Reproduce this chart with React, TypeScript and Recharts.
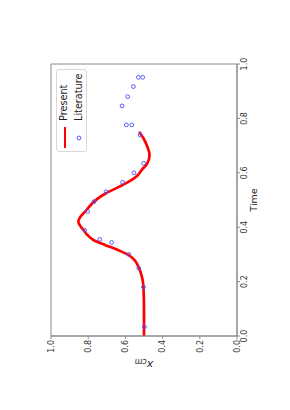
import { ComposedChart, Line, Scatter, XAxis, YAxis, ReferenceArea } from 'recharts'

const presentTime = [0, 0.1, 0.18, 0.22, 0.255, 0.28, 0.298, 0.316, 0.335, 0.353, 0.372, 0.39, 0.405, 0.42, 0.44, 0.457, 0.475, 0.494, 0.51, 0.525, 0.55, 0.574, 0.59, 0.61, 0.635, 0.665, 0.696, 0.727, 0.751]
const presentXcm = [0.5, 0.5, 0.503, 0.512, 0.53, 0.552, 0.584, 0.64, 0.71, 0.772, 0.805, 0.826, 0.843, 0.853, 0.84, 0.817, 0.795, 0.769, 0.74, 0.704, 0.63, 0.566, 0.535, 0.513, 0.482, 0.47, 0.482, 0.503, 0.526]

const literatureTime = [0.034, 0.18, 0.249, 0.3, 0.344, 0.355, 0.389, 0.458, 0.494, 0.53, 0.565, 0.6, 0.635, 0.739, 0.776, 0.776, 0.846, 0.88, 0.917, 0.951, 0.951]
const literatureXcm = [0.498, 0.503, 0.528, 0.582, 0.674, 0.738, 0.819, 0.803, 0.769, 0.704, 0.615, 0.554, 0.502, 0.52, 0.566, 0.595, 0.618, 0.588, 0.557, 0.53, 0.507]

const timeTicks = [0, 0.2, 0.4, 0.6, 0.8, 1.0]
const xcmTicks = [0, 0.2, 0.4, 0.6, 0.8, 1.0]

const present = presentTime.map((t, i) => ({ t, v: presentXcm[i] }))
const literature = literatureTime.map((t, i) => ({ t, v: literatureXcm[i] }))

const FONT = '"DejaVu Sans", sans-serif'
const AXIS = '#8a8a8a'

function OpenCircle(props: { cx?: number; cy?: number }) {
  const { cx, cy } = props
  if (cx == null || cy == null) return <g />
  return <circle cx={cx} cy={cy} r={1.9} fill="none" stroke="#5a5aff" strokeWidth={1} />
}

// ylabel: italic x with "cm" subscript
function XcmLabel() {
  return (
    <text x={45} y={144} transform="rotate(-90 45 144)" textAnchor="middle" dominantBaseline="central"
      fontFamily={FONT} fontSize={11} fill="#222">
      <tspan fontStyle="italic">x</tspan>
      <tspan dy={3} fontSize={8} fontStyle="italic">cm</tspan>
    </text>
  )
}

function PlotLegend() {
  const row: React.CSSProperties = { position: 'absolute', left: 30, fontSize: 9.7, lineHeight: '12px', color: '#222' }
  return (
    <div style={{
      position: 'absolute', left: 258, top: 56, width: 83, height: 31, boxSizing: 'border-box',
      border: '1px solid #d8d8d8', borderRadius: 3, background: 'rgba(255,255,255,0.85)', fontFamily: FONT,
    }}>
      <div style={{ position: 'absolute', left: 3, top: 6.5, width: 21, height: 2.7, background: '#ff0000' }} />
      <div style={{ ...row, top: 1 }}>Present</div>
      <svg style={{ position: 'absolute', left: 9, top: 18 }} width={8} height={8}>
        <circle cx={4} cy={4} r={1.9} fill="none" stroke="#5a5aff" strokeWidth={1} />
      </svg>
      <div style={{ ...row, top: 16 }}>Literature</div>
    </div>
  )
}

export default function App() {
  return (
    <div style={{ position: 'fixed', left: 0, top: 0, width: 290, height: 410, background: '#fff', overflow: 'hidden' }}>
      <div style={{
        position: 'absolute', left: 0, top: 0, width: 410, height: 290,
        transform: 'translate(0px, 410px) rotate(-90deg)', transformOrigin: '0 0',
      }}>
        <ComposedChart width={410} height={290} margin={{ top: 51, right: 64, bottom: 0, left: 0 }}>
          <XAxis
            type="number"
            dataKey="t"
            domain={[0, 1]}
            ticks={timeTicks}
            tickFormatter={(v: number) => v.toFixed(1)}
            height={53}
            stroke={AXIS}
            tickSize={3}
            tickMargin={1}
            tick={{ fontSize: 8, fill: '#333', fontFamily: FONT }}
            label={{ value: 'Time', position: 'insideTop', offset: 13, fontSize: 9.5, fill: '#222', fontFamily: FONT }}
          />
          <YAxis
            type="number"
            domain={[0, 1]}
            ticks={xcmTicks}
            tickFormatter={(v: number) => v.toFixed(1)}
            width={74}
            stroke={AXIS}
            tickSize={3}
            tickMargin={1}
            tick={{ fontSize: 8, fill: '#333', fontFamily: FONT }}
            label={{ content: <XcmLabel /> }}
          />
          <ReferenceArea x1={0} x2={1} y1={0} y2={1} fill="none" stroke={AXIS} strokeWidth={1} />
          <Line
            data={present}
            dataKey="v"
            type="monotone"
            stroke="#ff0000"
            strokeWidth={2.7}
            dot={false}
            isAnimationActive={false}
          />
          <Scatter data={literature} dataKey="v" shape={<OpenCircle />} isAnimationActive={false} />
        </ComposedChart>
        <PlotLegend />
      </div>
    </div>
  )
}
